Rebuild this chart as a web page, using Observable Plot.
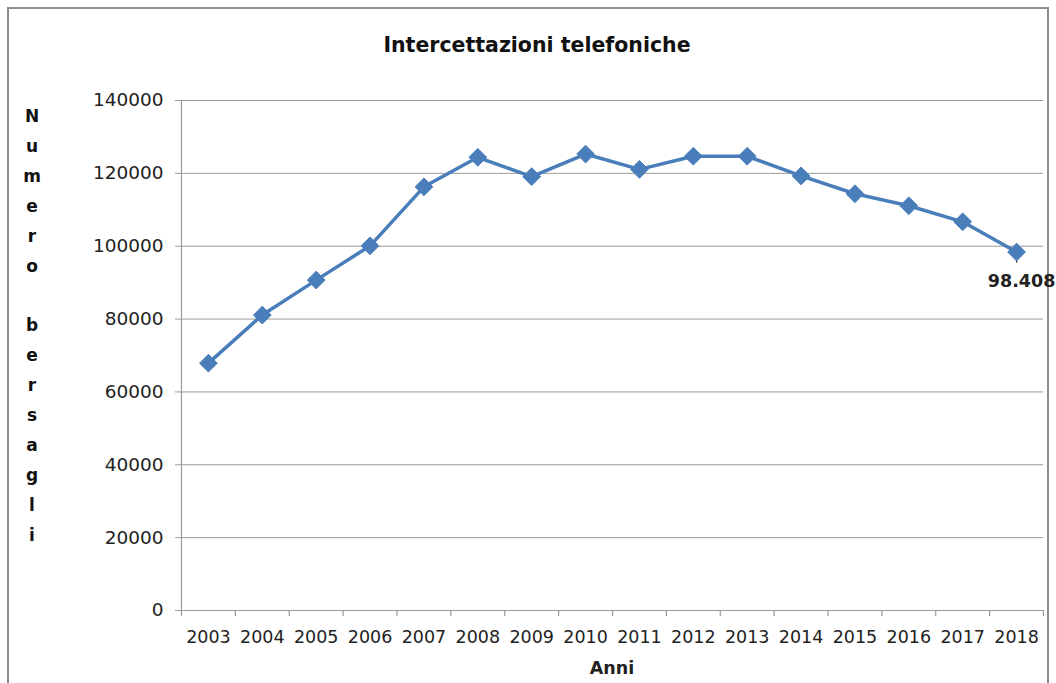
<!DOCTYPE html>
<html>
<head>
<meta charset="utf-8">
<script src="https://cdn.jsdelivr.net/npm/d3@7"></script>
<script src="https://cdn.jsdelivr.net/npm/@observablehq/plot@0.6"></script>
<style>
  body { margin: 0; background: #fff; }
  #wrap { position: relative; width: 1056px; height: 683px; overflow: hidden; font-family: "DejaVu Sans", sans-serif; }
  #frame { position: absolute; left: 7px; top: 7px; width: 1042px; height: 720px; border: 2px solid #8c8c8c; box-sizing: border-box; }
  #title { position: absolute; left: 0; width: 1074px; top: 33px; text-align: center; font-weight: bold; font-size: 20.5px; color: #111; }
  #ylab { position: absolute; left: 21px; width: 22px; top: 102px; text-align: center; font-weight: bold; font-size: 17px; line-height: 29.9px; color: #111; }
  #xlab { position: absolute; left: 181px; width: 862px; top: 658px; text-align: center; font-weight: bold; font-size: 17.5px; color: #222; }
  svg { position: absolute; left: 0; top: 0; }
</style>
</head>
<body>
<div id="wrap">
  <div id="frame"></div>
  <div id="chart"></div>
  <div id="title"></div>
  <div id="ylab"></div>
  <div id="xlab"></div>
</div>
<script>
const titleText = "Intercettazioni telefoniche";
const yLabel = "Numero bersagli";
const xLabel = "Anni";
const years = ["2003","2004","2005","2006","2007","2008","2009","2010","2011","2012","2013","2014","2015","2016","2017","2018"];
const values = [67900, 81100, 90700, 100100, 116300, 124400, 119100, 125300, 121100, 124700, 124700, 119300, 114400, 111100, 106700, 98408];
const yTicks = [0, 20000, 40000, 60000, 80000, 100000, 120000, 140000];
const lastLabel = "98.408";

const data = years.map((y, i) => ({year: y, value: values[i]}));
const last = data[data.length - 1];

document.getElementById("title").textContent = titleText;
document.getElementById("xlab").textContent = xLabel;
document.getElementById("ylab").innerHTML = yLabel.split("").map(c => c === " " ? "&nbsp;" : c).join("<br>");

const W = 1056, H = 683, mL = 181, mR = 13, mT = 100, mB = 73;
const bw = (W - mL - mR) / years.length;
const blue = "#4a7ebb";
const gray = "#9a9a9a";

const plot = Plot.plot({
  width: W,
  height: H,
  marginLeft: mL,
  marginRight: mR,
  marginTop: mT,
  marginBottom: mB,
  style: {fontFamily: "DejaVu Sans, sans-serif", background: "transparent", color: "#222"},
  x: {type: "band", domain: years, padding: 0, round: false, label: null},
  y: {domain: [0, 140000], label: null},
  marks: [
    Plot.gridY(yTicks, {stroke: gray, strokeOpacity: 1, strokeWidth: 1}),
    Plot.frame({anchor: "left", stroke: gray, strokeWidth: 1.2}),
    Plot.ruleY([0], {stroke: gray, strokeWidth: 1.2}),
    Plot.axisY(yTicks, {tickSize: 6, tickPadding: 12, stroke: gray, fontSize: 18.5, fill: "#222", tickFormat: d => String(d), label: null}),
    Plot.axisX({tickSize: 0, tickPadding: 20, fontSize: 17.5, fill: "#222", label: null}),
    Plot.ruleX(years, {x: d => d, dx: -bw / 2, y1: 0, y2: 0, insetBottom: -6, stroke: gray, strokeWidth: 1.2}),
    Plot.ruleX([years[years.length - 1]], {x: d => d, dx: bw / 2, y1: 0, y2: 0, insetBottom: -6, stroke: gray, strokeWidth: 1.2}),
    Plot.ruleX([last], {x: "year", y1: "value", y2: "value", insetBottom: -11, stroke: "#222", strokeWidth: 1.2}),
    Plot.line(data, {x: "year", y: "value", stroke: blue, strokeWidth: 3.5}),
    Plot.dot(data, {x: "year", y: "value", symbol: "diamond2", r: 8, fill: blue, stroke: blue, strokeWidth: 1}),
    Plot.text([last], {x: "year", y: "value", text: () => lastLabel, dy: 29, dx: 5, fontWeight: "bold", fontSize: 17.5, fill: "#222"})
  ]
});
document.getElementById("chart").appendChild(plot);
</script>
</body>
</html>
